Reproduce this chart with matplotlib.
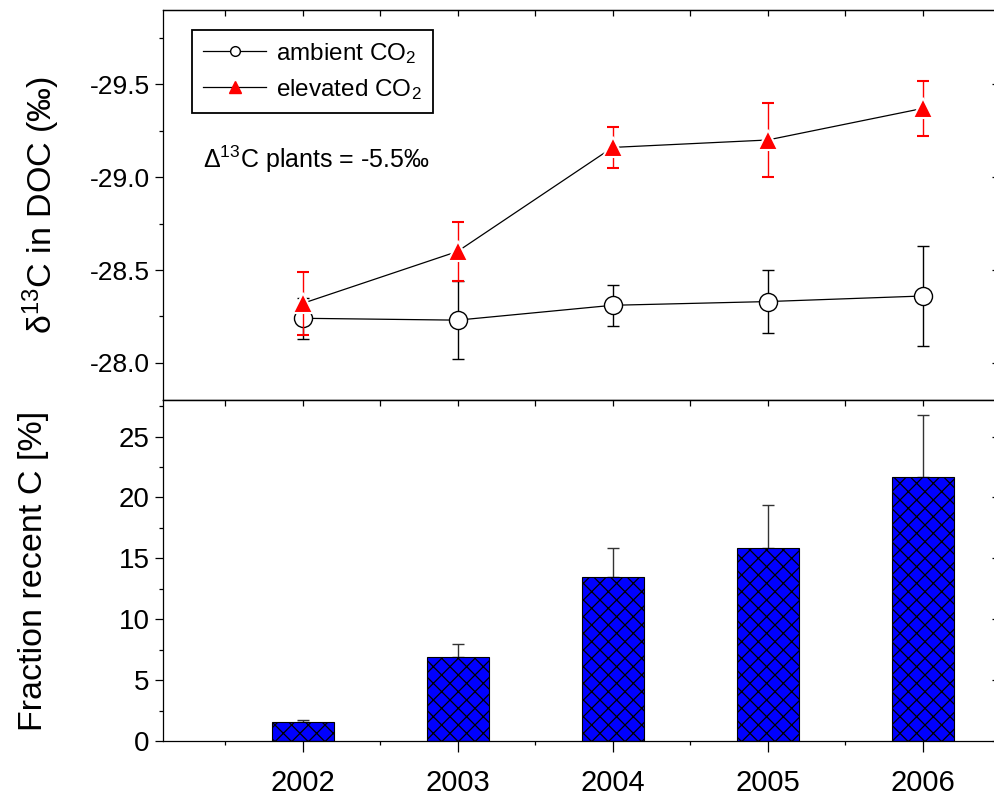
import numpy as np
import matplotlib
matplotlib.use("Agg")
import matplotlib.pyplot as plt
from matplotlib.ticker import MultipleLocator
from matplotlib.lines import Line2D

# data
years = [2002, 2003, 2004, 2005, 2006]
ambient = [-28.24, -28.23, -28.31, -28.33, -28.36]
ambient_err = [0.11, 0.21, 0.11, 0.17, 0.27]
elevated = [-28.32, -28.60, -29.16, -29.20, -29.37]
elevated_err = [0.17, 0.16, 0.11, 0.20, 0.15]
fraction = [1.6, 6.9, 13.45, 15.85, 21.65]
fraction_err = [0.15, 1.05, 2.4, 3.5, 5.1]

plt.rcParams["font.family"] = ["Liberation Sans", "DejaVu Sans"]
plt.rcParams["mathtext.fontset"] = "custom"
plt.rcParams["mathtext.rm"] = "Liberation Sans"
plt.rcParams["mathtext.it"] = "Liberation Sans:italic"
plt.rcParams["hatch.linewidth"] = 0.9
plt.rcParams["axes.linewidth"] = 0.9

fig = plt.figure(figsize=(9.94, 8.01), dpi=100)
L, R = 163 / 994, 995.5 / 994
ax1 = fig.add_axes([L, 1 - 400 / 801, R - L, 390 / 801])
ax2 = fig.add_axes([L, 1 - 741 / 801, R - L, 341 / 801])


def style_ticks(ax):
    ax.tick_params(which="major", direction="out", length=6, width=0.9)
    ax.tick_params(which="minor", direction="out", length=3, width=0.9)
    ax.xaxis.set_major_locator(MultipleLocator(1))
    ax.xaxis.set_minor_locator(MultipleLocator(0.5))
    # inward ticks on top and right
    top = ax.secondary_xaxis("top")
    top.xaxis.set_major_locator(MultipleLocator(1))
    top.xaxis.set_minor_locator(MultipleLocator(0.5))
    top.tick_params(which="both", direction="in", length=4, width=0.9, labeltop=False)
    right = ax.secondary_yaxis("right")
    right.yaxis.set_major_locator(ax.yaxis.get_major_locator())
    right.tick_params(which="major", direction="in", length=3, width=0.9, labelright=False)
    right.tick_params(which="minor", length=0)


# top panel: delta 13C in DOC
ax1.errorbar(years, ambient, yerr=ambient_err, color="black", lw=0.9, elinewidth=1.0,
             capsize=4, capthick=1.0, marker="o", ms=13, mfc="white", mec="black",
             mew=1.0, zorder=3)
ax1.errorbar(years, elevated, yerr=elevated_err, color="black", lw=0.9, ecolor="red",
             elinewidth=1.0, capsize=4, capthick=1.0, marker="^", ms=15, mfc="red",
             mec="white", mew=1.5, zorder=4)
ax1.set_xlim(2001.1, 2006.47)
ax1.set_ylim(-27.8, -29.9)
ax1.yaxis.set_major_locator(MultipleLocator(0.5))
ax1.yaxis.set_minor_locator(MultipleLocator(0.25))
ax1.yaxis.set_major_formatter(plt.FormatStrFormatter("%.1f"))
style_ticks(ax1)
ax1.tick_params(axis="x", labelbottom=False)
ax1.tick_params(axis="y", labelsize=19)
ax1.set_ylabel("δ$^{13}$C in DOC (‰)", fontsize=24.5, labelpad=20)

handles = [
    Line2D([], [], color="black", lw=0.9, marker="o", ms=7, mfc="white", mec="black"),
    Line2D([], [], color="black", lw=0.9, marker="^", ms=9, mfc="red", mec="red"),
]
leg = ax1.legend(handles, ["ambient CO$_2$", "elevated CO$_2$"], loc="upper left",
                 bbox_to_anchor=(0.035, 0.949), borderaxespad=0, fontsize=17.5,
                 fancybox=False, framealpha=1, edgecolor="black", handlelength=2.6,
                 handletextpad=0.4, borderpad=0.45, labelspacing=0.45)
leg.get_frame().set_linewidth(1.3)
ax1.text(0.048, 0.595, "Δ$^{13}$C plants = -5.5‰", transform=ax1.transAxes,
         fontsize=18, va="baseline", ha="left")

# bottom panel: fraction recent C
ax2.bar(years, fraction, width=0.4, color="#0000ff", edgecolor="black", linewidth=0.8,
        hatch="xx", zorder=2)
ax2.errorbar(years, fraction, yerr=[[0] * len(years), fraction_err], fmt="none",
             ecolor="#333333", elinewidth=1.0, capsize=4, capthick=1.0, zorder=1)
ax2.set_xlim(2001.1, 2006.47)
ax2.set_ylim(0, 28)
ax2.yaxis.set_major_locator(MultipleLocator(5))
ax2.yaxis.set_minor_locator(MultipleLocator(2.5))
style_ticks(ax2)
ax2.tick_params(axis="both", labelsize=21)
ax2.tick_params(axis="y", labelsize=20)
ax2.tick_params(axis="x", which="major", length=8, pad=12)
ax2.set_xticks(years)
ax2.set_xticklabels([str(y) for y in years])
ax2.set_ylabel("Fraction recent C [%]", fontsize=24.5, labelpad=50)

fig.savefig("out.png", dpi=100)
